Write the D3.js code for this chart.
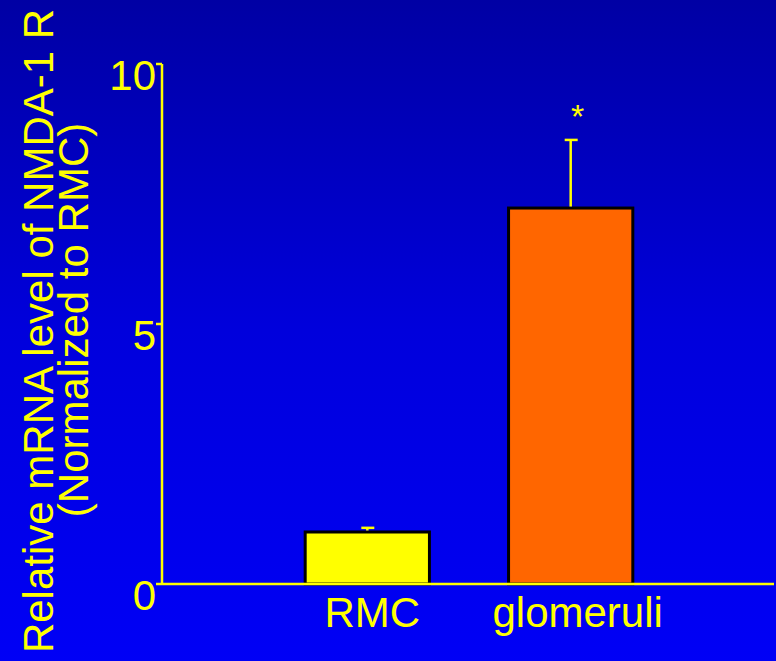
<!DOCTYPE html>
<html>
<head>
<meta charset="utf-8">
<script src="https://cdn.jsdelivr.net/npm/d3@7"></script>
<style>
  html, body { margin: 0; padding: 0; background: #0000c8; }
  svg { display: block; }
  text { font-family: "Liberation Sans", Arial, sans-serif; }
</style>
</head>
<body>
<svg id="chart" width="776" height="661"></svg>
<script>
// Relative NMDA-1 R mRNA expression, normalized to RMC
const categories = ["RMC", "glomeruli"];
const values = [1.0, 7.23];
const errors = [0.08, 1.31];
const barColors = ["#ffff00", "#ff6600"];
const significance = ["", "*"];
const yTicks = [0, 5, 10];
const yTitleLines = ["Relative mRNA level of NMDA-1 R", "(Normalized to RMC)"];

const W = 776, H = 661;
const svg = d3.select("#chart");
const yellow = "#ffff00";

// background gradient, darker at top
const defs = svg.append("defs");
const grad = defs.append("linearGradient")
  .attr("id", "bg").attr("x1", 0).attr("y1", 0).attr("x2", 0).attr("y2", 1);
grad.append("stop").attr("offset", "0%").attr("stop-color", "#0000a4");
grad.append("stop").attr("offset", "50%").attr("stop-color", "#0000dc");
grad.append("stop").attr("offset", "100%").attr("stop-color", "#0000f6");
svg.append("rect").attr("width", W).attr("height", H).attr("fill", "url(#bg)");

const axisX = 162, axisRight = 774;
const y = d3.scaleLinear().domain([0, 10]).range([584, 64]);
const x = d3.scaleBand().domain(categories).range([203.5, 734.5]).paddingInner(0.389).paddingOuter(0.5);

// bars
const bars = svg.append("g");
bars.selectAll("rect").data(categories).join("rect")
  .attr("x", d => x(d))
  .attr("y", (d, i) => y(values[i]))
  .attr("width", x.bandwidth())
  .attr("height", (d, i) => y(0) - y(values[i]))
  .attr("fill", (d, i) => barColors[i])
  .attr("stroke", "#000")
  .attr("stroke-width", 3);

// error bars (upper only)
const err = svg.append("g").attr("stroke", yellow).attr("stroke-width", 2.5);
categories.forEach((c, i) => {
  const cx = x(c) + x.bandwidth() / 2;
  err.append("line").attr("x1", cx).attr("x2", cx)
    .attr("y1", y(values[i]) - 1.5).attr("y2", y(values[i] + errors[i]));
  err.append("line").attr("x1", cx - 6).attr("x2", cx + 7)
    .attr("y1", y(values[i] + errors[i])).attr("y2", y(values[i] + errors[i]));
  if (significance[i]) {
    svg.append("text").attr("x", cx + 7).attr("y", y(values[i] + errors[i]) - 12)
      .attr("text-anchor", "middle").attr("fill", yellow)
      .attr("font-size", 34).text(significance[i]);
  }
});

// axes lines
svg.append("line").attr("x1", axisX).attr("x2", axisX)
  .attr("y1", y(10)).attr("y2", y(0) + 1)
  .attr("stroke", yellow).attr("stroke-width", 2.5);
svg.append("line").attr("x1", axisX).attr("x2", axisRight)
  .attr("y1", y(0)).attr("y2", y(0))
  .attr("stroke", yellow).attr("stroke-width", 2.5);

// y ticks and labels
const ticks = svg.append("g");
yTicks.forEach(t => {
  ticks.append("line").attr("x1", axisX - 6).attr("x2", axisX)
    .attr("y1", y(t)).attr("y2", y(t))
    .attr("stroke", yellow).attr("stroke-width", 2.5);
  ticks.append("text").attr("x", axisX - 6).attr("y", y(t) + 26)
    .attr("text-anchor", "end").attr("fill", yellow)
    .attr("font-size", 42).text(t);
});

// category labels
svg.append("g").selectAll("text").data(categories).join("text")
  .attr("x", (d, i) => x(d) + x.bandwidth() / 2 + (i === 0 ? 5 : 7))
  .attr("y", 627)
  .attr("text-anchor", "middle").attr("fill", yellow)
  .attr("font-size", 42).text(d => d);

// y axis title, two rotated lines
const titlePos = [{bx: 53, cy: 331}, {bx: 88, cy: 320}];
yTitleLines.forEach((line, i) => {
  svg.append("text")
    .attr("transform", `translate(${titlePos[i].bx},${titlePos[i].cy}) rotate(-90)`)
    .attr("text-anchor", "middle").attr("fill", yellow)
    .attr("font-size", 42).text(line);
});
</script>
</body>
</html>
